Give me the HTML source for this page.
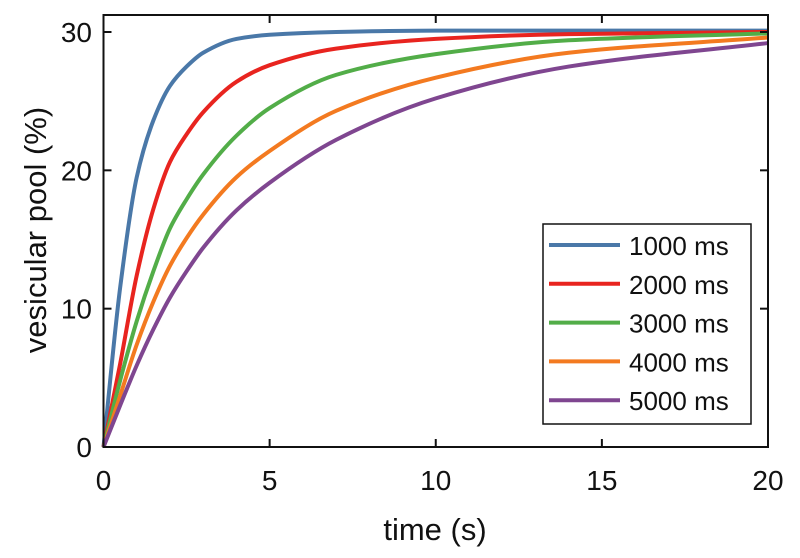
<!DOCTYPE html>
<html><head><meta charset="utf-8"><style>
html,body{margin:0;padding:0;background:#fff;}
svg{display:block;font-family:"Liberation Sans",sans-serif;}
</style></head><body>
<svg id="chart" width="800" height="558"></svg>
<script>
const times=[0,0.5,1,1.5,2,2.5,3,4,5,7,10,14,20];
const s1000=[0,11.5,19.5,23.6,26.1,27.5,28.5,29.5,29.8,30,30.1,30.1,30.1];
const s2000=[0,6.0,12.4,17.2,20.6,22.6,24.2,26.4,27.6,28.8,29.5,29.85,30.0];
const s3000=[0,4.8,9.1,12.7,15.8,17.9,19.7,22.5,24.5,26.9,28.4,29.4,29.9];
const s4000=[0,3.7,7.4,10.5,13.1,15.1,16.8,19.5,21.4,24.3,26.7,28.5,29.6];
const s5000=[0,3.0,5.9,8.5,10.8,12.7,14.4,17.1,19.1,22.2,25.2,27.5,29.2];
const seriesLabels=["1000 ms","2000 ms","3000 ms","4000 ms","5000 ms"];
const seriesColors=["#4a78a8","#e8241f","#52ad48","#f37a20","#7f4690"];
const xTicks=[0,5,10,15,20];
const yTicks=[0,10,20,30];

const svg=document.getElementById('chart');
const NS='http://www.w3.org/2000/svg';
const L=103.5,R=768,T=15,B=447;
const x=v=>L+(v-0)/(20-0)*(R-L);
const y=v=>B-(v-0)/30*(B-32);
function mk(tag,attrs,parent){const e=document.createElementNS(NS,tag);for(const k in attrs)e.setAttribute(k,attrs[k]);(parent||svg).appendChild(e);return e;}

function monotonePath(xs,ys){
  const n=xs.length,dx=[],m=[],t=new Array(n);
  for(let i=0;i<n-1;i++){dx.push(xs[i+1]-xs[i]);m.push((ys[i+1]-ys[i])/dx[i]);}
  t[0]=m[0];t[n-1]=m[n-2];
  for(let i=1;i<n-1;i++){
    if(m[i-1]*m[i]<=0)t[i]=0;
    else{const w1=2*dx[i]+dx[i-1],w2=dx[i]+2*dx[i-1];t[i]=(w1+w2)/(w1/m[i-1]+w2/m[i]);}
  }
  let d='M'+xs[0]+','+ys[0];
  for(let i=0;i<n-1;i++){
    const h=dx[i]/3;
    d+=' C'+(xs[i]+h)+','+(ys[i]+t[i]*h)+' '+(xs[i+1]-h)+','+(ys[i+1]-t[i+1]*h)+' '+xs[i+1]+','+ys[i+1];
  }
  return d;
}

const all=[s1000,s2000,s3000,s4000,s5000];
all.forEach((s,i)=>{
  const d=monotonePath(times.map(x),s.map(y));
  const p=mk('path',{d:d,fill:'none',stroke:seriesColors[i],'stroke-width':4,'stroke-linejoin':'round'});
  
  
});

const frame=mk('rect',{x:L,y:T,width:R-L,height:B-T,fill:'none',stroke:'#111','stroke-width':2});



xTicks.forEach(v=>{
  mk('line',{x1:x(v),x2:x(v),y1:B,y2:B-8,stroke:'#111','stroke-width':2});
  mk('line',{x1:x(v),x2:x(v),y1:T,y2:T+8,stroke:'#111','stroke-width':2});
  const t=mk('text',{x:x(v),y:490,'text-anchor':'middle','font-size':28,fill:'#111'});
  t.textContent=v;
  
  
});
yTicks.forEach(v=>{
  mk('line',{x1:L,x2:L+8,y1:y(v),y2:y(v),stroke:'#111','stroke-width':2});
  mk('line',{x1:R,x2:R-8,y1:y(v),y2:y(v),stroke:'#111','stroke-width':2});
  const t=mk('text',{x:92,y:y(v)+10,'text-anchor':'end','font-size':28,fill:'#111'});
  t.textContent=v;
  
  
});

const xt=mk('text',{x:435,y:540,'text-anchor':'middle','font-size':31,fill:'#111'});
xt.textContent='time (s)';


const yt=mk('text',{x:0,y:0,'text-anchor':'middle','font-size':31,fill:'#111',transform:'translate(46,230) rotate(-90)'});
yt.textContent='vesicular pool (%)';



const lg=mk('g',{});


mk('rect',{x:543,y:224,width:208,height:200,fill:'#fff',stroke:'#111','stroke-width':1.5},lg);
seriesLabels.forEach((s,i)=>{
  const yy=245+i*38.8;
  const ln=mk('line',{x1:549,x2:620,y1:yy,y2:yy,stroke:seriesColors[i],'stroke-width':4},lg);
  
  
  const t=mk('text',{x:629,y:yy+10,'font-size':26,fill:'#111'},lg);
  t.textContent=s;
  
  
});
</script>
</body></html>
